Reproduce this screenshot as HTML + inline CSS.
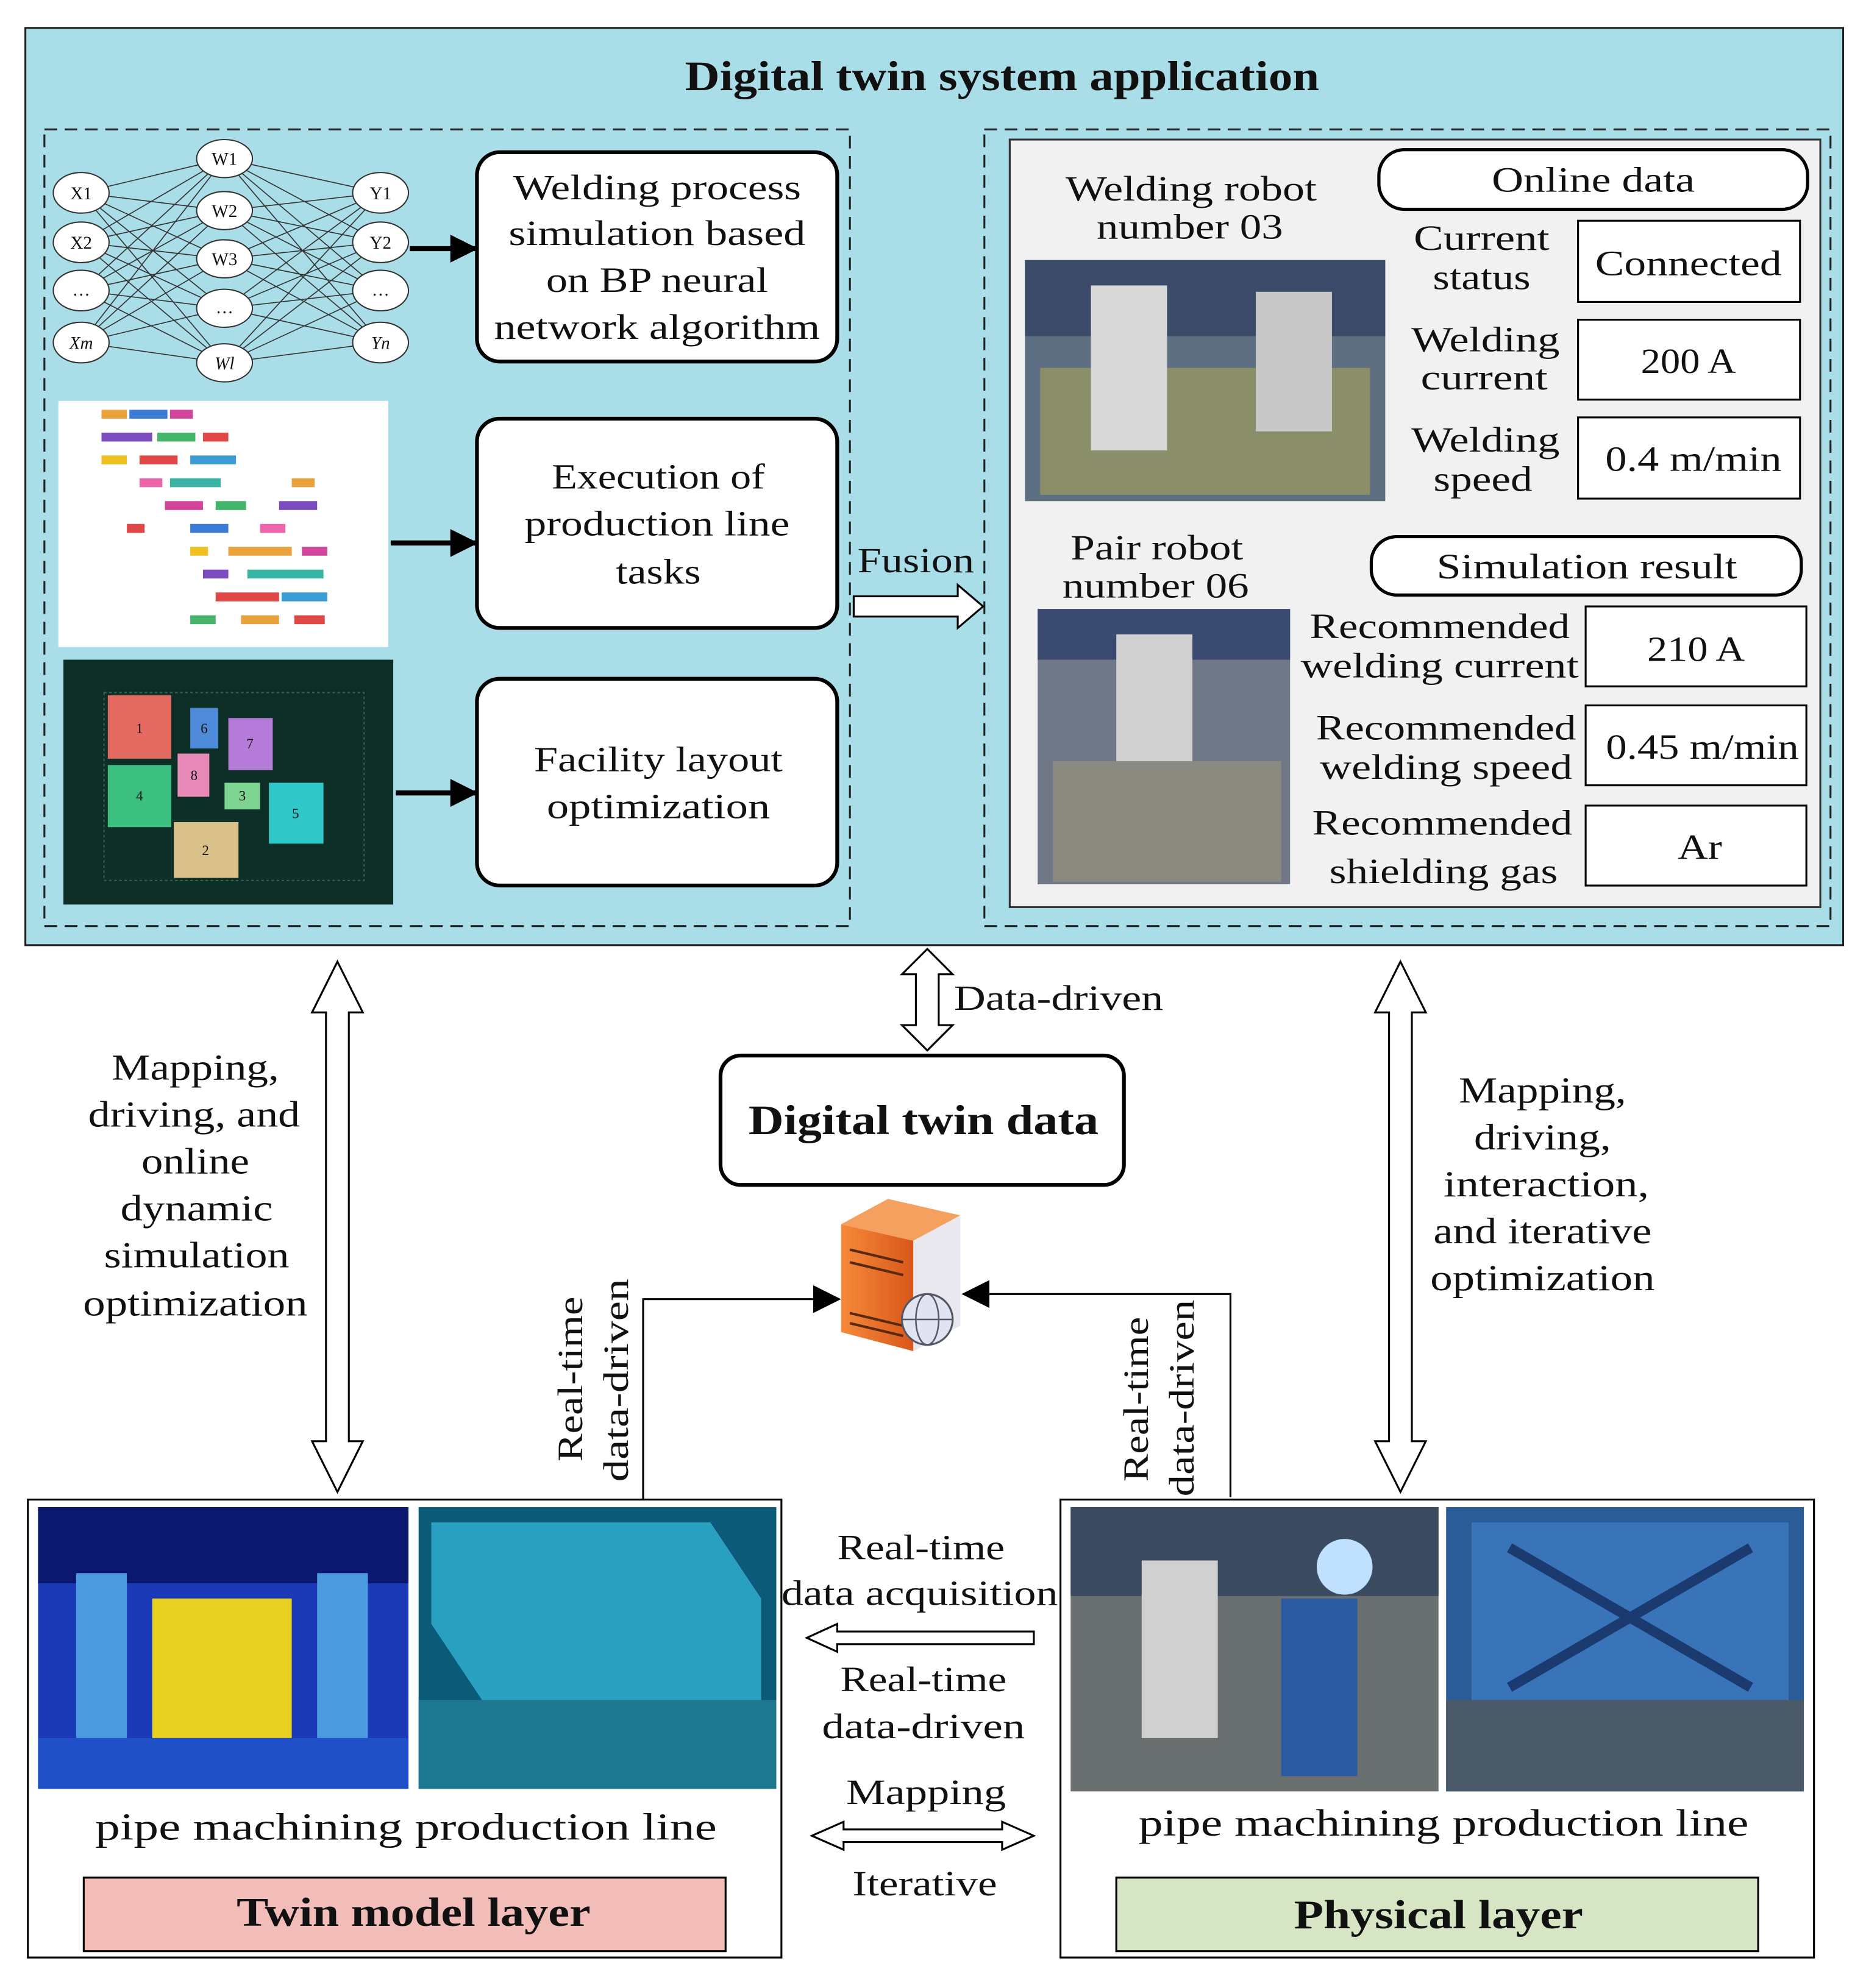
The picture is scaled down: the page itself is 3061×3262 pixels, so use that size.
<!DOCTYPE html>
<html><head><meta charset="utf-8"><style>
html,body{margin:0;padding:0;background:#fff}
svg{display:block}
text{font-family:"Liberation Serif",serif;fill:#111}
</style></head><body>
<svg width="3061" height="3262" viewBox="0 0 1471 1567" preserveAspectRatio="none" xmlns="http://www.w3.org/2000/svg">
<defs>
<marker id="ahb" markerWidth="22" markerHeight="22" refX="20" refY="11" orient="auto" markerUnits="userSpaceOnUse"><path d="M0,0 L22,11 L0,22 z" fill="#000"/></marker>
<linearGradient id="srv" x1="0" x2="1"><stop offset="0" stop-color="#f58a3a"/><stop offset="1" stop-color="#d9571a"/></linearGradient>
</defs>
<rect x="20" y="22" width="1433" height="723" fill="#a9dde8" stroke="#222" stroke-width="1.5"/>
<text x="790" y="71" font-size="33" font-weight="bold" text-anchor="middle" textLength="500" lengthAdjust="spacingAndGlyphs">Digital twin  system application</text>
<rect x="35" y="102" width="635" height="628" fill="none" stroke="#222" stroke-width="1.5" stroke-dasharray="10,6"/>
<rect x="776" y="102" width="667" height="628" fill="none" stroke="#222" stroke-width="1.5" stroke-dasharray="10,6"/>
<rect x="796" y="110" width="639" height="605" fill="#f1f1f1" stroke="#333" stroke-width="1.5"/>

<g stroke="#333" stroke-width="0.8">
<path d="M64 152L177 125M64 152L177 166M64 152L177 204M64 152L177 243M64 152L177 286M64 191L177 125M64 191L177 166M64 191L177 204M64 191L177 243M64 191L177 286M64 229L177 125M64 229L177 166M64 229L177 204M64 229L177 243M64 229L177 286M64 270L177 125M64 270L177 166M64 270L177 204M64 270L177 243M64 270L177 286"/>
<path d="M300 152L177 125M300 152L177 166M300 152L177 204M300 152L177 243M300 152L177 286M300 191L177 125M300 191L177 166M300 191L177 204M300 191L177 243M300 191L177 286M300 229L177 125M300 229L177 166M300 229L177 204M300 229L177 243M300 229L177 286M300 270L177 125M300 270L177 166M300 270L177 204M300 270L177 243M300 270L177 286"/>
</g>
<g fill="#fff" stroke="#333" stroke-width="1">
<ellipse cx="64" cy="152" rx="22" ry="16"/><ellipse cx="64" cy="191" rx="22" ry="16"/><ellipse cx="64" cy="229" rx="22" ry="16"/><ellipse cx="64" cy="270" rx="22" ry="16"/>
<ellipse cx="177" cy="125" rx="22" ry="15"/><ellipse cx="177" cy="166" rx="22" ry="15"/><ellipse cx="177" cy="204" rx="22" ry="15"/><ellipse cx="177" cy="243" rx="22" ry="15"/><ellipse cx="177" cy="286" rx="22" ry="15"/>
<ellipse cx="300" cy="152" rx="22" ry="16"/><ellipse cx="300" cy="191" rx="22" ry="16"/><ellipse cx="300" cy="229" rx="22" ry="16"/><ellipse cx="300" cy="270" rx="22" ry="16"/>
</g>
<g font-size="14" text-anchor="middle">
<text x="64" y="157">X1</text><text x="64" y="196">X2</text><text x="64" y="233">…</text><text x="64" y="275" font-style="italic">Xm</text>
<text x="177" y="130">W1</text><text x="177" y="171">W2</text><text x="177" y="209">W3</text><text x="177" y="247">…</text><text x="177" y="291" font-style="italic">Wl</text>
<text x="300" y="157">Y1</text><text x="300" y="196">Y2</text><text x="300" y="233">…</text><text x="300" y="275" font-style="italic">Yn</text>
</g>
<line x1="323" y1="196" x2="375" y2="196" stroke="#000" stroke-width="4" marker-end="url(#ahb)"/>

<g fill="#fff" stroke="#000" stroke-width="3">
<rect x="376" y="120" width="284" height="165" rx="18"/>
<rect x="376" y="330" width="284" height="165" rx="18"/>
<rect x="376" y="535" width="284" height="163" rx="18"/>
</g>
<g font-size="28" text-anchor="middle" lengthAdjust="spacingAndGlyphs">
<text x="518" y="157" textLength="227" lengthAdjust="spacingAndGlyphs">Welding process</text>
<text x="518" y="193" textLength="234" lengthAdjust="spacingAndGlyphs">simulation based</text>
<text x="518" y="230" textLength="175" lengthAdjust="spacingAndGlyphs">on BP neural</text>
<text x="518" y="267" textLength="257" lengthAdjust="spacingAndGlyphs">network algorithm</text>
<text x="519" y="385" textLength="168" lengthAdjust="spacingAndGlyphs">Execution of</text>
<text x="518" y="422" textLength="209" lengthAdjust="spacingAndGlyphs">production line</text>
<text x="519" y="460" textLength="67" lengthAdjust="spacingAndGlyphs">tasks</text>
<text x="519" y="608" textLength="196" lengthAdjust="spacingAndGlyphs">Facility layout</text>
<text x="519" y="645" textLength="176" lengthAdjust="spacingAndGlyphs">optimization</text>
</g>

<rect x="46" y="316" width="260" height="194" fill="#fff"/>
<g>
<rect x="80" y="323" width="20" height="7" fill="#e8a33d"/><rect x="102" y="323" width="30" height="7" fill="#3a7bd5"/><rect x="134" y="323" width="18" height="7" fill="#d2459a"/>
<rect x="80" y="341" width="40" height="7" fill="#7c4dbf"/><rect x="124" y="341" width="30" height="7" fill="#44b56a"/><rect x="160" y="341" width="20" height="7" fill="#e04848"/>
<rect x="80" y="359" width="20" height="7" fill="#f0c020"/><rect x="110" y="359" width="30" height="7" fill="#e04848"/><rect x="150" y="359" width="36" height="7" fill="#3a9bd5"/>
<rect x="110" y="377" width="18" height="7" fill="#ee66aa"/><rect x="134" y="377" width="40" height="7" fill="#3ab5a5"/><rect x="230" y="377" width="18" height="7" fill="#e8a33d"/>
<rect x="130" y="395" width="30" height="7" fill="#d2459a"/><rect x="170" y="395" width="24" height="7" fill="#44b56a"/><rect x="220" y="395" width="30" height="7" fill="#7c4dbf"/>
<rect x="100" y="413" width="14" height="7" fill="#e04848"/><rect x="150" y="413" width="30" height="7" fill="#3a7bd5"/><rect x="205" y="413" width="20" height="7" fill="#ee66aa"/>
<rect x="150" y="431" width="14" height="7" fill="#f0c020"/><rect x="180" y="431" width="50" height="7" fill="#e8a33d"/><rect x="238" y="431" width="20" height="7" fill="#d2459a"/>
<rect x="160" y="449" width="20" height="7" fill="#7c4dbf"/><rect x="195" y="449" width="60" height="7" fill="#3ab5a5"/>
<rect x="170" y="467" width="50" height="7" fill="#e04848"/><rect x="222" y="467" width="36" height="7" fill="#3a9bd5"/>
<rect x="150" y="485" width="20" height="7" fill="#44b56a"/><rect x="190" y="485" width="30" height="7" fill="#e8a33d"/><rect x="232" y="485" width="24" height="7" fill="#e04848"/>
</g>
<line x1="308" y1="428" x2="375" y2="428" stroke="#000" stroke-width="4" marker-end="url(#ahb)"/>

<rect x="50" y="520" width="260" height="193" fill="#0e2f28"/>
<rect x="82" y="546" width="205" height="148" fill="none" stroke="#3c6a52" stroke-width="0.8" stroke-dasharray="2,2"/>
<rect x="85" y="548" width="50" height="50" fill="#e46a62"/>
<rect x="150" y="558" width="22" height="32" fill="#4f8ad8"/>
<rect x="180" y="566" width="35" height="41" fill="#b57bd8"/>
<rect x="140" y="594" width="25" height="34" fill="#e88ab8"/>
<rect x="85" y="603" width="50" height="49" fill="#3cc080"/>
<rect x="177" y="617" width="28" height="21" fill="#7dd490"/>
<rect x="212" y="617" width="43" height="48" fill="#30c8c8"/>
<rect x="137" y="648" width="51" height="44" fill="#d8c088"/>
<g font-size="11" text-anchor="middle" fill="#111"><text x="110" y="578">1</text><text x="161" y="578">6</text><text x="197" y="590">7</text><text x="153" y="615">8</text><text x="110" y="631">4</text><text x="191" y="631">3</text><text x="233" y="645">5</text><text x="162" y="674">2</text></g>
<line x1="312" y1="625" x2="375" y2="625" stroke="#000" stroke-width="4" marker-end="url(#ahb)"/>

<text x="722" y="451" font-size="28" text-anchor="middle" textLength="92" lengthAdjust="spacingAndGlyphs">Fusion</text>
<path d="M673 470 L755 470 L755 461 L775 478 L755 495 L755 486 L673 486 Z" fill="#fff" stroke="#000" stroke-width="1.5"/>

<g font-size="28" text-anchor="middle">
<text x="939" y="158" textLength="198" lengthAdjust="spacingAndGlyphs">Welding robot</text>
<text x="938" y="188" textLength="147" lengthAdjust="spacingAndGlyphs">number 03</text>
<text x="912" y="441" textLength="136" lengthAdjust="spacingAndGlyphs">Pair robot</text>
<text x="911" y="471" textLength="147" lengthAdjust="spacingAndGlyphs">number 06</text>
</g>
<rect x="808" y="205" width="284" height="190" fill="#5d6f80"/>
<rect x="808" y="205" width="284" height="60" fill="#3a4a68"/>
<rect x="820" y="290" width="260" height="100" fill="#8a8f6a"/>
<rect x="860" y="225" width="60" height="130" fill="#d8d8d8"/>
<rect x="990" y="230" width="60" height="110" fill="#c8c8c8"/>
<rect x="818" y="480" width="199" height="217" fill="#707888"/>
<rect x="818" y="480" width="199" height="40" fill="#3a4a70"/>
<rect x="880" y="500" width="60" height="100" fill="#d0d0d0"/>
<rect x="830" y="600" width="180" height="95" fill="#8a8a80"/>

<g fill="#fff" stroke="#000" stroke-width="2.5">
<rect x="1087" y="118" width="338" height="47" rx="20"/>
<rect x="1081" y="423" width="339" height="46" rx="20"/>
</g>
<g fill="#fff" stroke="#000" stroke-width="1.5">
<rect x="1244" y="174" width="175" height="64"/><rect x="1244" y="252" width="175" height="63"/><rect x="1244" y="329" width="175" height="64"/>
<rect x="1250" y="478" width="174" height="63"/><rect x="1250" y="556" width="174" height="63"/><rect x="1250" y="635" width="174" height="63"/>
</g>
<g font-size="28" text-anchor="middle">
<text x="1256" y="151" textLength="160" lengthAdjust="spacingAndGlyphs">Online data</text>
<text x="1251" y="456" textLength="237" lengthAdjust="spacingAndGlyphs">Simulation result</text>
<text x="1168" y="197" textLength="107" lengthAdjust="spacingAndGlyphs">Current</text>
<text x="1168" y="228" textLength="77" lengthAdjust="spacingAndGlyphs">status</text>
<text x="1171" y="277" textLength="117" lengthAdjust="spacingAndGlyphs">Welding</text>
<text x="1170" y="307" textLength="100" lengthAdjust="spacingAndGlyphs">current</text>
<text x="1171" y="356" textLength="117" lengthAdjust="spacingAndGlyphs">Welding</text>
<text x="1169" y="387" textLength="78" lengthAdjust="spacingAndGlyphs">speed</text>
<text x="1331" y="217" textLength="147" lengthAdjust="spacingAndGlyphs">Connected</text>
<text x="1331" y="294" textLength="75" lengthAdjust="spacingAndGlyphs">200 A</text>
<text x="1335" y="371" textLength="139" lengthAdjust="spacingAndGlyphs">0.4 m/min</text>
<text x="1135" y="503" textLength="205" lengthAdjust="spacingAndGlyphs">Recommended</text>
<text x="1135" y="534" textLength="219" lengthAdjust="spacingAndGlyphs">welding current</text>
<text x="1140" y="583" textLength="205" lengthAdjust="spacingAndGlyphs">Recommended</text>
<text x="1140" y="614" textLength="199" lengthAdjust="spacingAndGlyphs">welding speed</text>
<text x="1137" y="658" textLength="205" lengthAdjust="spacingAndGlyphs">Recommended</text>
<text x="1138" y="696" textLength="180" lengthAdjust="spacingAndGlyphs">shielding gas</text>
<text x="1337" y="521" textLength="77" lengthAdjust="spacingAndGlyphs">210 A</text>
<text x="1342" y="598" textLength="152" lengthAdjust="spacingAndGlyphs">0.45 m/min</text>
<text x="1340" y="677" textLength="35" lengthAdjust="spacingAndGlyphs">Ar</text>
</g>

<path d="M731 748 L751 768 L740 768 L740 808 L751 808 L731 828 L711 808 L722 808 L722 768 L711 768 Z" fill="#fff" stroke="#000" stroke-width="1.5"/>
<text x="752" y="796" font-size="28" textLength="165" lengthAdjust="spacingAndGlyphs">Data-driven</text>
<rect x="568" y="832" width="318" height="102" rx="16" fill="#fff" stroke="#000" stroke-width="3"/>
<text x="728" y="894" font-size="33" font-weight="bold" text-anchor="middle" textLength="276" lengthAdjust="spacingAndGlyphs">Digital twin  data</text>

<path d="M663 965 L700 945 L757 958 L720 978 Z" fill="#f6a060"/>
<path d="M663 965 L720 978 L720 1065 L663 1050 Z" fill="url(#srv)"/>
<path d="M720 978 L757 958 L757 1045 L720 1065 Z" fill="#e8e8ee"/>
<g stroke="#5a2a10" stroke-width="2"><line x1="670" y1="985" x2="712" y2="995"/><line x1="670" y1="995" x2="712" y2="1005"/><line x1="670" y1="1035" x2="712" y2="1045"/><line x1="670" y1="1043" x2="712" y2="1053"/></g>
<circle cx="731" cy="1040" r="20" fill="#dfe4f0" stroke="#556" stroke-width="1.5"/>
<ellipse cx="731" cy="1040" rx="9" ry="20" fill="none" stroke="#556" stroke-width="1.2"/>
<line x1="711" y1="1040" x2="751" y2="1040" stroke="#556" stroke-width="1.2"/>

<path d="M266 758 L286 798 L275 798 L275 1136 L286 1136 L266 1176 L246 1136 L257 1136 L257 798 L246 798 Z" fill="#fff" stroke="#000" stroke-width="1.5"/>
<path d="M1104 758 L1124 798 L1113 798 L1113 1136 L1124 1136 L1104 1176 L1084 1136 L1095 1136 L1095 798 L1084 798 Z" fill="#fff" stroke="#000" stroke-width="1.5"/>
<g font-size="29" text-anchor="middle">
<text x="154" y="851" textLength="132" lengthAdjust="spacingAndGlyphs">Mapping,</text>
<text x="153" y="888" textLength="167" lengthAdjust="spacingAndGlyphs">driving, and</text>
<text x="154" y="925" textLength="85" lengthAdjust="spacingAndGlyphs">online</text>
<text x="155" y="962" textLength="120" lengthAdjust="spacingAndGlyphs">dynamic</text>
<text x="155" y="999" textLength="146" lengthAdjust="spacingAndGlyphs">simulation</text>
<text x="154" y="1037" textLength="177" lengthAdjust="spacingAndGlyphs">optimization</text>
<text x="1216" y="869" textLength="132" lengthAdjust="spacingAndGlyphs">Mapping,</text>
<text x="1216" y="906" textLength="108" lengthAdjust="spacingAndGlyphs">driving,</text>
<text x="1219" y="943" textLength="162" lengthAdjust="spacingAndGlyphs">interaction,</text>
<text x="1216" y="980" textLength="172" lengthAdjust="spacingAndGlyphs">and iterative</text>
<text x="1216" y="1017" textLength="177" lengthAdjust="spacingAndGlyphs">optimization</text>
</g>

<polyline points="507,1182 507,1024 661,1024" fill="none" stroke="#000" stroke-width="1.5" marker-end="url(#ahb)"/>
<polyline points="970,1180 970,1020 760,1020" fill="none" stroke="#000" stroke-width="1.5" marker-end="url(#ahb)"/>
<g font-size="28" text-anchor="middle">
<text transform="translate(459,1087) rotate(-90)" textLength="130" lengthAdjust="spacingAndGlyphs">Real-time</text>
<text transform="translate(495,1088) rotate(-90)" textLength="160" lengthAdjust="spacingAndGlyphs">data-driven</text>
<text transform="translate(905,1103) rotate(-90)" textLength="130" lengthAdjust="spacingAndGlyphs">Real-time</text>
<text transform="translate(941,1102) rotate(-90)" textLength="155" lengthAdjust="spacingAndGlyphs">data-driven</text>
</g>

<rect x="22" y="1182" width="594" height="361" fill="#fff" stroke="#000" stroke-width="1.5"/>
<rect x="836" y="1182" width="594" height="361" fill="#fff" stroke="#000" stroke-width="1.5"/>
<rect x="30" y="1188" width="292" height="222" fill="#1a3ab8"/>
<rect x="30" y="1188" width="292" height="60" fill="#0a1870"/>
<rect x="120" y="1260" width="110" height="110" fill="#e8d020"/>
<rect x="60" y="1240" width="40" height="130" fill="#4c9ae0"/>
<rect x="250" y="1240" width="40" height="130" fill="#4c9ae0"/>
<rect x="30" y="1370" width="292" height="40" fill="#2050c8"/>
<rect x="330" y="1188" width="282" height="222" fill="#0a5a78"/>
<path d="M340 1200 L560 1200 L600 1260 L600 1340 L380 1340 L340 1280 Z" fill="#2aa0c0"/>
<rect x="330" y="1340" width="282" height="70" fill="#1e7890"/>
<rect x="844" y="1188" width="290" height="224" fill="#6a7070"/>
<rect x="844" y="1188" width="290" height="70" fill="#3a4a60"/>
<rect x="900" y="1230" width="60" height="140" fill="#d0d0d0"/>
<rect x="1010" y="1260" width="60" height="140" fill="#2c5aa0"/>
<circle cx="1060" cy="1235" r="22" fill="#bfe0ff"/>
<rect x="1140" y="1188" width="282" height="224" fill="#2a5c98"/>
<path d="M1160 1200 L1410 1200 L1410 1340 L1160 1340 Z" fill="#3a74b8"/>
<path d="M1190 1220 L1380 1330 M1380 1220 L1190 1330" stroke="#1a3a70" stroke-width="8"/>
<rect x="1140" y="1340" width="282" height="72" fill="#4a5a68"/>
<g font-size="30" text-anchor="middle">
<text x="320" y="1450" textLength="490" lengthAdjust="spacingAndGlyphs">pipe machining  production line</text>
<text x="1138" y="1447" textLength="481" lengthAdjust="spacingAndGlyphs">pipe machining production line</text>
</g>
<rect x="66" y="1480" width="506" height="58" fill="#f2bcb8" stroke="#000" stroke-width="1.5"/>
<rect x="880" y="1480" width="506" height="58" fill="#d6e6c4" stroke="#000" stroke-width="1.5"/>
<text x="326" y="1518" font-size="32" font-weight="bold" text-anchor="middle" textLength="279" lengthAdjust="spacingAndGlyphs">Twin model layer</text>
<text x="1134" y="1520" font-size="32" font-weight="bold" text-anchor="middle" textLength="228" lengthAdjust="spacingAndGlyphs">Physical  layer</text>

<g font-size="28" text-anchor="middle">
<text x="726" y="1229" textLength="132" lengthAdjust="spacingAndGlyphs">Real-time</text>
<text x="725" y="1265" textLength="218" lengthAdjust="spacingAndGlyphs">data acquisition</text>
<text x="728" y="1333" textLength="131" lengthAdjust="spacingAndGlyphs">Real-time</text>
<text x="728" y="1370" textLength="160" lengthAdjust="spacingAndGlyphs">data-driven</text>
<text x="730" y="1422" textLength="126" lengthAdjust="spacingAndGlyphs">Mapping</text>
<text x="729" y="1494" textLength="114" lengthAdjust="spacingAndGlyphs">Iterative</text>
</g>
<path d="M636 1291 L660 1280 L660 1286 L815 1286 L815 1296 L660 1296 L660 1302 Z" fill="#fff" stroke="#000" stroke-width="1.5"/>
<path d="M640 1447 L665 1436 L665 1442 L790 1442 L790 1436 L815 1447 L790 1458 L790 1452 L665 1452 L665 1458 Z" fill="#fff" stroke="#000" stroke-width="1.5"/>
</svg>
</body></html>
